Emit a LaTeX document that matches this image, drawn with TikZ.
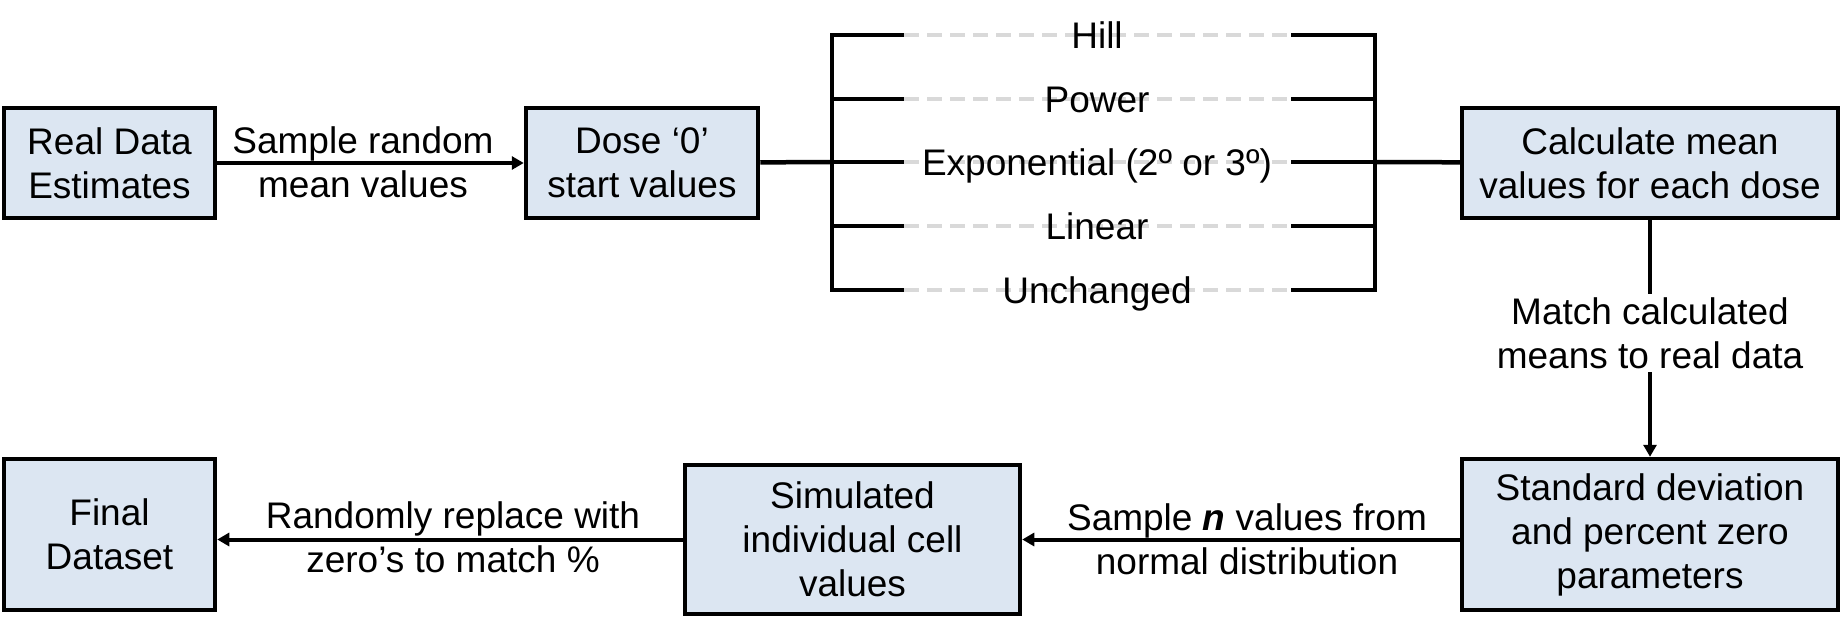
\documentclass[tikz,border=0pt]{standalone}
\usepackage{fontspec}
\setmainfont{Liberation Sans}
\usetikzlibrary{arrows.meta}
\definecolor{boxfill}{HTML}{DCE6F2}
\definecolor{dashgray}{HTML}{D9D9D9}

\begin{document}
\begin{tikzpicture}
    [x = 1pt, y = -1pt, font = \fontsize{37}{44}\selectfont,
     box/.style = {draw, fill = boxfill, line width = 4.5pt, align = center, inner sep = 0pt},
     link/.style = {line width = 4.5pt},
     arr/.style = {line width = 4pt, -{Triangle[length = 12pt, width = 13pt]}},
     lbl/.style = {align = center, inner sep = 3pt},
     model/.style = {text height = 26.5pt, text depth = 0pt, inner sep = 0pt},
     dashline/.style = {draw = dashgray, line width = 3.5pt, dash pattern = on 15pt off 8pt}]
    \useasboundingbox (0,0) rectangle (1846,630);
    % boxes
    \node[box, minimum width = 211pt, minimum height = 110pt] (realdata) at (109.5,163) {Real Data\\Estimates};
    \node[box, minimum width = 232pt, minimum height = 110pt] (dose0) at (642,163) {Dose ‘0’\\start values};
    \node[box, minimum width = 376pt, minimum height = 110pt] (calcmean) at (1650,163) {Calculate mean\\values for each dose};
    \node[box, minimum width = 376pt, minimum height = 151pt] (sdzero) at (1650,534.5) {Standard deviation\\and percent zero\\parameters};
    \node[box, minimum width = 335pt, minimum height = 149pt] (simcells) at (852.5,539.5) {Simulated\\individual cell\\values};
    \node[box, minimum width = 211pt, minimum height = 151pt] (finaldata) at (109.5,534.5) {Final\\Dataset};
    % model bracket
    \coordinate (bl) at (832,162);
    \coordinate (br) at (1375,162);
    \foreach \y/\model [count = \i] in {35/Hill, 99/Power, 162/{Exponential (2º or 3º)}, 226/Linear, 290/Unchanged} {
      \draw[dashline] (904,\y) -- (1291,\y);
      \draw[link] (832,\y) -- (904,\y);
      \draw[link] (1291,\y) -- (1375,\y);
      \node[model] (m\i) at (1097,\y) {\model};
    }
    \draw[link, line cap = rect] (832,35) -- (832,290);
    \draw[link, line cap = rect] (1375,35) -- (1375,290);
    % connectors
    \draw[arr] (realdata) -- (dose0);
    \draw[link] (dose0) -- (bl);
    \draw[link] (br) -- (calcmean);
    \draw[arr] (calcmean) -- (sdzero);
    \draw[arr] (sdzero.west |- simcells) -- (simcells);
    \draw[arr] (simcells) -- (finaldata.east |- simcells);
    % labels
    \node[lbl] (samplemean) at (363,162) {Sample random\\mean values};
    \node[lbl, fill = white] (matchmeans) at (1650,333) {Match calculated\\means to real data};
    \node[lbl] (samplen) at (1247,539) {Sample \textbf{\textit{n}} values from\\normal distribution};
    \node[lbl] (replacezero) at (453,537) {Randomly replace with\\zero’s to match \%};
\end{tikzpicture}
\end{document}
